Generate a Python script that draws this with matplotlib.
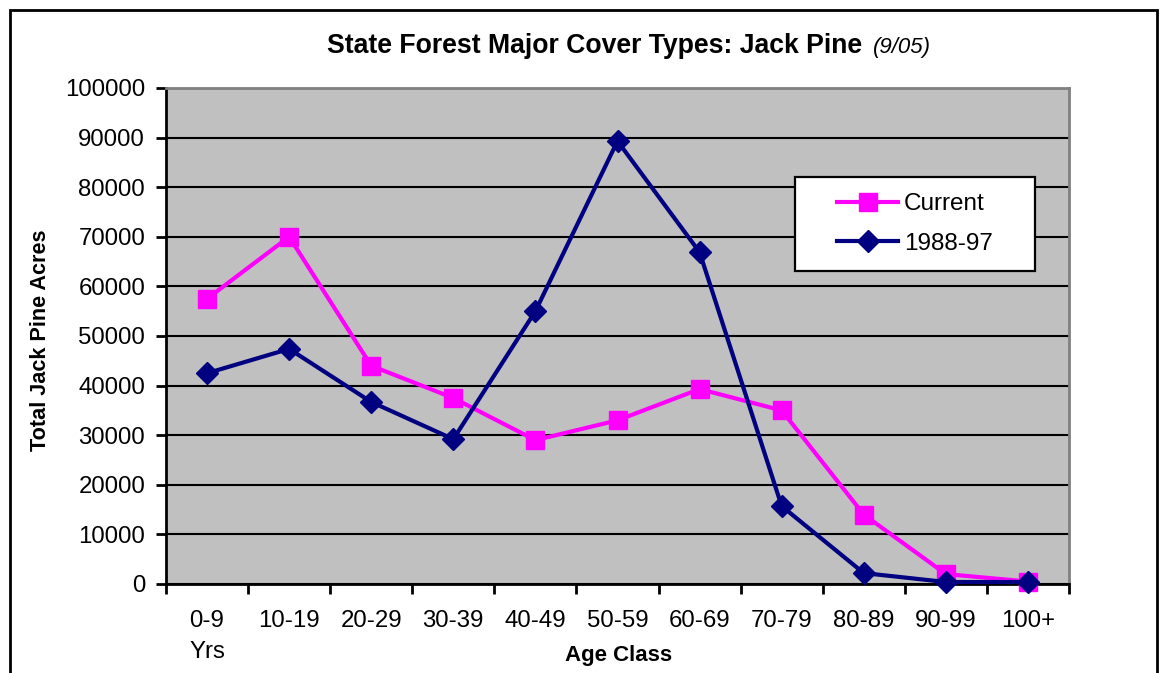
import matplotlib
matplotlib.use("Agg")
import matplotlib.pyplot as plt
from matplotlib.patches import Rectangle
import numpy as np

plt.rcParams['font.family'] = ['Liberation Sans', 'DejaVu Sans']

categories = ["0-9\nYrs", "10-19", "20-29", "30-39", "40-49", "50-59",
              "60-69", "70-79", "80-89", "90-99", "100+"]
current = [57500, 70000, 44000, 37500, 29000, 33000, 39300, 35000, 14000, 2000, 500]
past = [42500, 47400, 36700, 29200, 55000, 89300, 66900, 15700, 2200, 400, 400]
yticks = list(range(0, 100001, 10000))

W, H = 1170, 673
AX_L, AX_R, AX_T, AX_B = 166, 1069, 88, 584
fig = plt.figure(figsize=(W / 100, H / 100), dpi=100)
fig.patch.set_facecolor('white')

ax = fig.add_axes([AX_L / W, 1 - AX_B / H, (AX_R - AX_L) / W, (AX_B - AX_T) / H])
ax.set_facecolor('#C0C0C0')

x = np.arange(len(categories))
ax.plot(x, current, color='#FF00FF', lw=3, marker='s', ms=13.5,
        markerfacecolor='#FF00FF', markeredgecolor='#FF00FF', mew=1.0,
        zorder=3, clip_on=False, label='Current')
ax.plot(x, past, color='#000080', lw=3, marker='D', ms=11,
        markerfacecolor='#000080', markeredgecolor='#000080', mew=1.0,
        zorder=4, clip_on=False, label='1988-97')

ax.set_xlim(-0.5, len(categories) - 0.5)
ax.set_ylim(0, 100000)
ax.set_yticks(yticks)
ax.set_yticklabels([str(v) for v in yticks])
ax.yaxis.grid(True, color='black', lw=1.5)
ax.set_axisbelow(True)

ax.set_xticks(x)
ax.set_xticklabels(categories)
ax.set_xticks(np.arange(-0.5, len(categories)), minor=True)
ax.tick_params(axis='x', which='major', length=0, pad=19, labelsize=17.3)
ax.tick_params(axis='x', which='minor', length=7, width=2, direction='out')
ax.tick_params(axis='y', length=7, width=2, direction='out', pad=8, labelsize=17.3)
for lbl in ax.get_xticklabels():
    lbl.set_multialignment('left')
    lbl.set_linespacing(1.5)

for s in ['left', 'bottom']:
    ax.spines[s].set_color('black')
    ax.spines[s].set_linewidth(2)
for s in ['top', 'right']:
    ax.spines[s].set_color('#808080')
    ax.spines[s].set_linewidth(2)

# legend box
aw, ah = AX_R - AX_L, AX_B - AX_T
lx0, ly0 = (795 - AX_L) / aw, (AX_B - 271) / ah
lw_, lh_ = (1035 - 795) / aw, (271 - 177) / ah
ax.add_patch(Rectangle((lx0, ly0), lw_, lh_, transform=ax.transAxes,
                       facecolor='white', edgecolor='black', lw=1.6, zorder=5))
leg = ax.legend(loc='center', bbox_to_anchor=(lx0 + lw_ / 2, ly0 + lh_ / 2),
                frameon=False, fontsize=17.5, handlelength=2.5,
                handletextpad=0.25, labelspacing=0.7, borderpad=0)
leg.set_zorder(6)

# titles and labels
fig.text(862 / W, 1 - 53 / H, "State Forest Major Cover Types: Jack Pine",
         ha='right', va='baseline', fontsize=19.2, fontweight='bold')
fig.text(873 / W, 1 - 53 / H, "(9/05)", ha='left', va='baseline',
         fontsize=16, fontstyle='italic')
fig.text(619 / W, 1 - 655 / H, "Age Class", ha='center', va='center',
         fontsize=16, fontweight='bold')
fig.text(40 / W, 1 - 340 / H, "Total Jack Pine Acres", ha='center', va='center',
         rotation=90, fontsize=15.6, fontweight='bold')

# outer chart border
fig.patches.append(Rectangle((10 / W, -0.2), (1157 - 10) / W, (1 - 10 / H) + 0.2,
                             transform=fig.transFigure, fill=False,
                             edgecolor='black', lw=2, clip_on=False))

fig.savefig('out.png', dpi=100)
